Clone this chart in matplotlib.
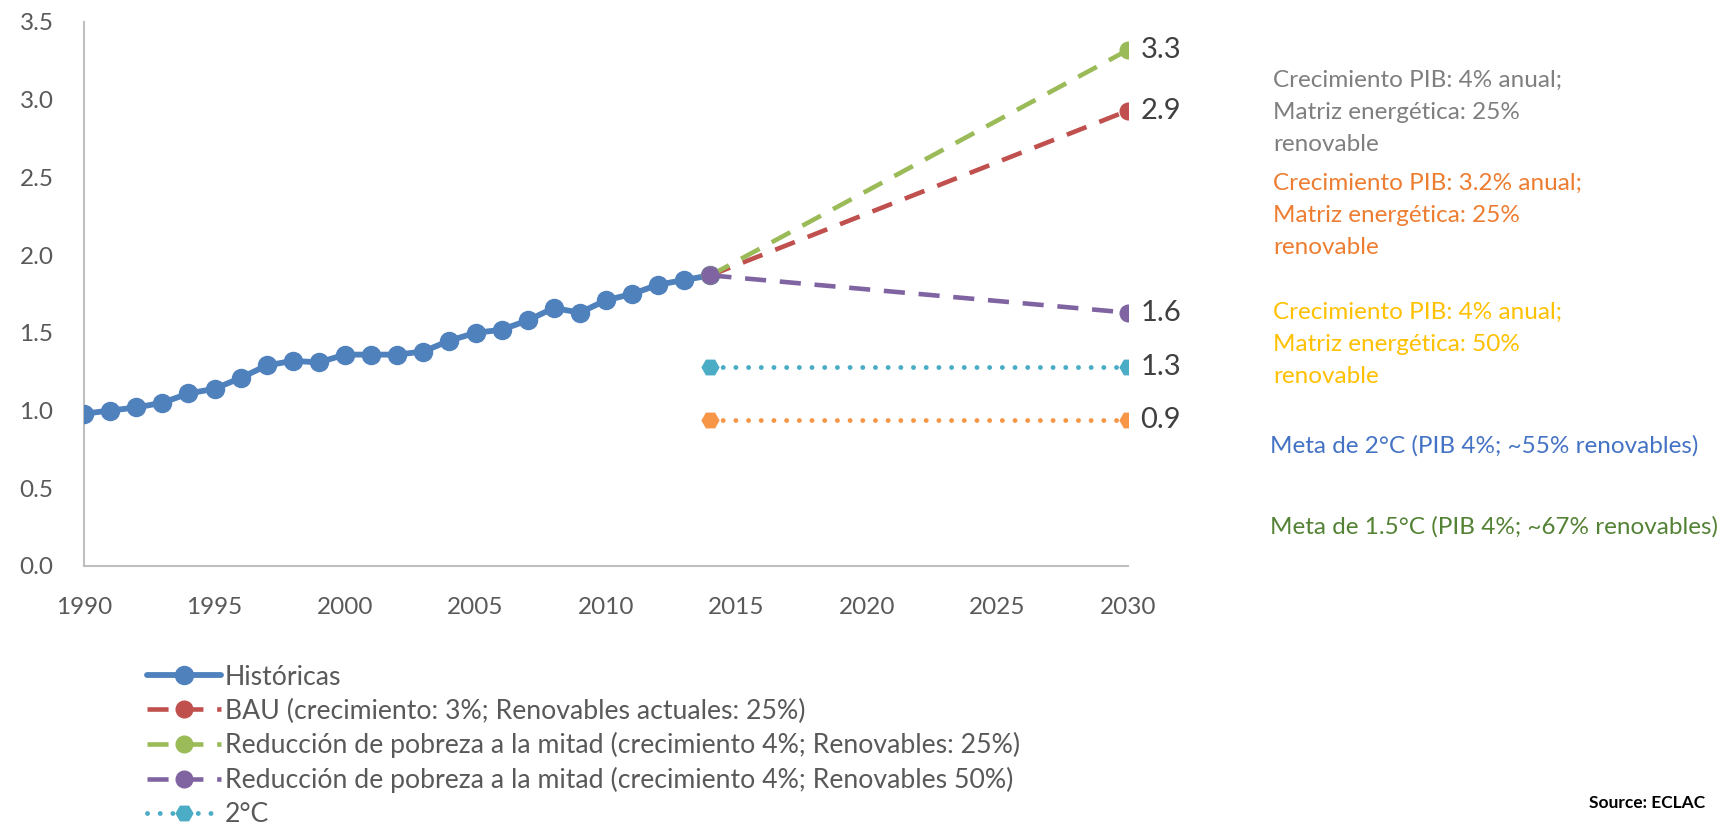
import matplotlib
matplotlib.use("Agg")
import matplotlib.pyplot as plt

plt.rcParams['font.family'] = ['Lato', 'DejaVu Sans']

# Historical series
years_hist = list(range(1990, 2015))
hist_values = [0.98, 1.00, 1.02, 1.05, 1.11, 1.14, 1.21, 1.29, 1.32, 1.31,
               1.36, 1.36, 1.36, 1.38, 1.45, 1.50, 1.52, 1.58, 1.66, 1.63,
               1.71, 1.75, 1.81, 1.84, 1.87]

# Scenario series (start year, end year)
scen_years = [2014, 2030]
bau_values = [1.87, 2.93]
pobreza25_values = [1.87, 3.32]
pobreza50_values = [1.87, 1.63]
meta2_values = [1.28, 1.28]
meta15_values = [0.94, 0.94]

legend_labels = [
    "Históricas",
    "BAU (crecimiento: 3%; Renovables actuales: 25%)",
    "Reducción de pobreza a la mitad (crecimiento 4%; Renovables: 25%)",
    "Reducción de pobreza a la mitad (crecimiento 4%; Renovables 50%)",
    "2°C",
]

y_ticks = [0.0, 0.5, 1.0, 1.5, 2.0, 2.5, 3.0, 3.5]
x_ticks = [1990, 1995, 2000, 2005, 2010, 2015, 2020, 2025, 2030]

side_notes = [
    ("Crecimiento PIB: 4% anual;\nMatriz energética: 25%\nrenovable", "#7F7F7F"),
    ("Crecimiento PIB: 3.2% anual;\nMatriz energética: 25%\nrenovable", "#ED7D31"),
    ("Crecimiento PIB: 4% anual;\nMatriz energética: 50%\nrenovable", "#FFC000"),
    ("Meta de 2°C (PIB 4%; ~55% renovables)", "#4472C4"),
    ("Meta de 1.5°C (PIB 4%; ~67% renovables)", "#548235"),
]

C_BLUE = "#4F81BD"
C_RED = "#C0504D"
C_GREEN = "#9BBB59"
C_PURPLE = "#8064A2"
C_CYAN = "#4BACC6"
C_ORANGE = "#F79646"
TEXT = "#595959"

fig = plt.figure(figsize=(17.28, 8.26), dpi=100)
ax = fig.add_axes([84 / 1728, 1 - 566 / 826, (1128 - 84) / 1728, (566 - 22) / 826])

dash = (4.6, 3.0)
dot = (0.01, 2.6)

h_hist, = ax.plot(years_hist, hist_values, color=C_BLUE, lw=4.2, marker='o',
                  markersize=13, solid_capstyle='round', zorder=3)
h_bau, = ax.plot(scen_years, bau_values, color=C_RED, lw=3.3, dashes=dash,
                 marker='o', markersize=12, zorder=4)
h_p25, = ax.plot(scen_years, pobreza25_values, color=C_GREEN, lw=3.3, dashes=dash,
                 marker='o', markersize=12, zorder=4)
h_p50, = ax.plot(scen_years, pobreza50_values, color=C_PURPLE, lw=3.3, dashes=dash,
                 marker='o', markersize=12, zorder=5)
h_m2, = ax.plot(scen_years, meta2_values, color=C_CYAN, lw=3.5, dashes=dot,
                dash_capstyle='round', marker='H', markersize=12, zorder=4)
h_m15, = ax.plot(scen_years, meta15_values, color=C_ORANGE, lw=3.5, dashes=dot,
                 dash_capstyle='round', marker='H', markersize=12, zorder=4)

# End-of-period value labels
for series in (pobreza25_values, bau_values, pobreza50_values, meta2_values, meta15_values):
    ax.annotate(f"{series[-1]:.1f}", xy=(scen_years[-1], series[-1]),
                xytext=(9, 0), textcoords='offset points', va='center', ha='left',
                fontsize=21, color="#404040", annotation_clip=False)

ax.set_xlim(1990, 2030)
ax.set_ylim(0, 3.5)
ax.set_xticks(x_ticks)
ax.set_yticks(y_ticks)
ax.set_yticklabels([f"{v:.1f}" for v in y_ticks])
ax.tick_params(axis='both', length=0, labelsize=17.5, labelcolor=TEXT)
ax.tick_params(axis='x', pad=22)
ax.tick_params(axis='y', pad=22)
for side in ('top', 'right'):
    ax.spines[side].set_visible(False)
for side in ('left', 'bottom'):
    ax.spines[side].set_color("#BFBFBF")
    ax.spines[side].set_linewidth(1.5)

leg = fig.legend([h_hist, h_bau, h_p25, h_p50, h_m2], legend_labels,
                 loc='upper left', bbox_to_anchor=(136 / 1728, 1 - 654 / 826),
                 frameon=False, fontsize=19.2, handlelength=2.8, handletextpad=0.12,
                 labelspacing=0.33, borderaxespad=0)
for t in leg.get_texts():
    t.set_color(TEXT)

# Scenario descriptions to the right of the plot
note_pos = [(1273, 70), (1273, 173), (1273, 302), (1270, 446), (1270, 527)]
for (txt, col), (px, py) in zip(side_notes, note_pos):
    fig.text(px / 1728, 1 - py / 826, txt, color=col, fontsize=17.5,
             va='center' if '\n' not in txt else 'top', ha='left',
             linespacing=1.66, transform=fig.transFigure)

fig.text(1705 / 1728, 1 - 803 / 826, "Source: ECLAC", fontsize=12.5,
         fontweight='bold', ha='right', va='center', color='black')

fig.savefig("out.png", dpi=100)
